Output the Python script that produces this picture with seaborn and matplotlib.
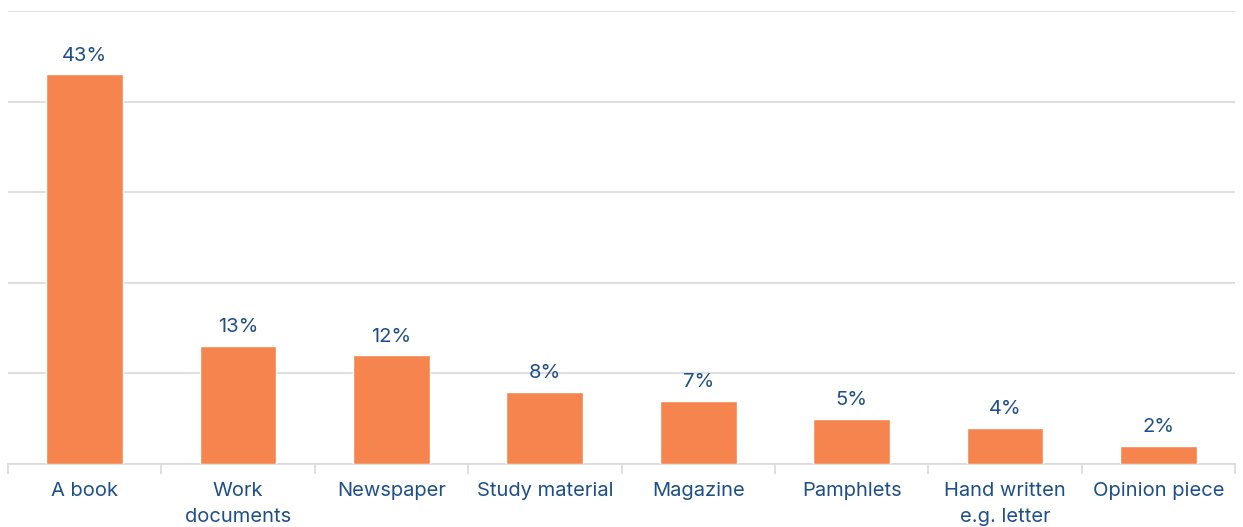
import matplotlib
matplotlib.use("Agg")
import matplotlib.pyplot as plt
import seaborn as sns
import pandas as pd

categories = ["A book", "Work\ndocuments", "Newspaper", "Study material",
              "Magazine", "Pamphlets", "Hand written\ne.g. letter", "Opinion piece"]
values = [43, 13, 12, 8, 7, 5, 4, 2]

bar_color = "#F5844F"
text_color = "#1E4F8A"
grid_color = "#D9D9D9"

sns.set_theme(style="white")
plt.rcParams["font.family"] = ["Inter", "DejaVu Sans"]

fig = plt.figure(figsize=(12.43, 5.27), dpi=100)
ax = fig.add_axes([8 / 1243, (527 - 464) / 527, (1235 - 8) / 1243, (464 - 11) / 527])

df = pd.DataFrame({"category": categories, "value": values})
sns.barplot(data=df, x="category", y="value", color=bar_color, width=0.5,
            saturation=1, ax=ax, zorder=3)

ax.bar_label(ax.containers[0], labels=[f"{v}%" for v in values],
             padding=7, color=text_color, fontsize=14.5)

ax.set_ylim(0, 50)
ax.set_xlim(-0.5, len(categories) - 0.5)
ax.set_yticks(range(0, 51, 10))
ax.yaxis.grid(True, color=grid_color, linewidth=1.2, zorder=0)
ax.set_yticklabels([])
ax.tick_params(axis="y", length=0)

ax.set_xticks([i - 0.5 for i in range(len(categories) + 1)], minor=True)
ax.tick_params(axis="x", which="minor", length=7, width=1.2, color=grid_color, bottom=True)
ax.tick_params(axis="x", which="major", length=0, pad=13, labelsize=14.5,
               labelcolor=text_color)
for lbl in ax.get_xticklabels():
    lbl.set_linespacing(1.55)

for side in ["left", "right", "top"]:
    ax.spines[side].set_visible(False)
ax.spines["bottom"].set_color(grid_color)
ax.spines["bottom"].set_linewidth(1.2)

ax.set_xlabel("")
ax.set_ylabel("")

fig.savefig("out.png", dpi=100, facecolor="white")
